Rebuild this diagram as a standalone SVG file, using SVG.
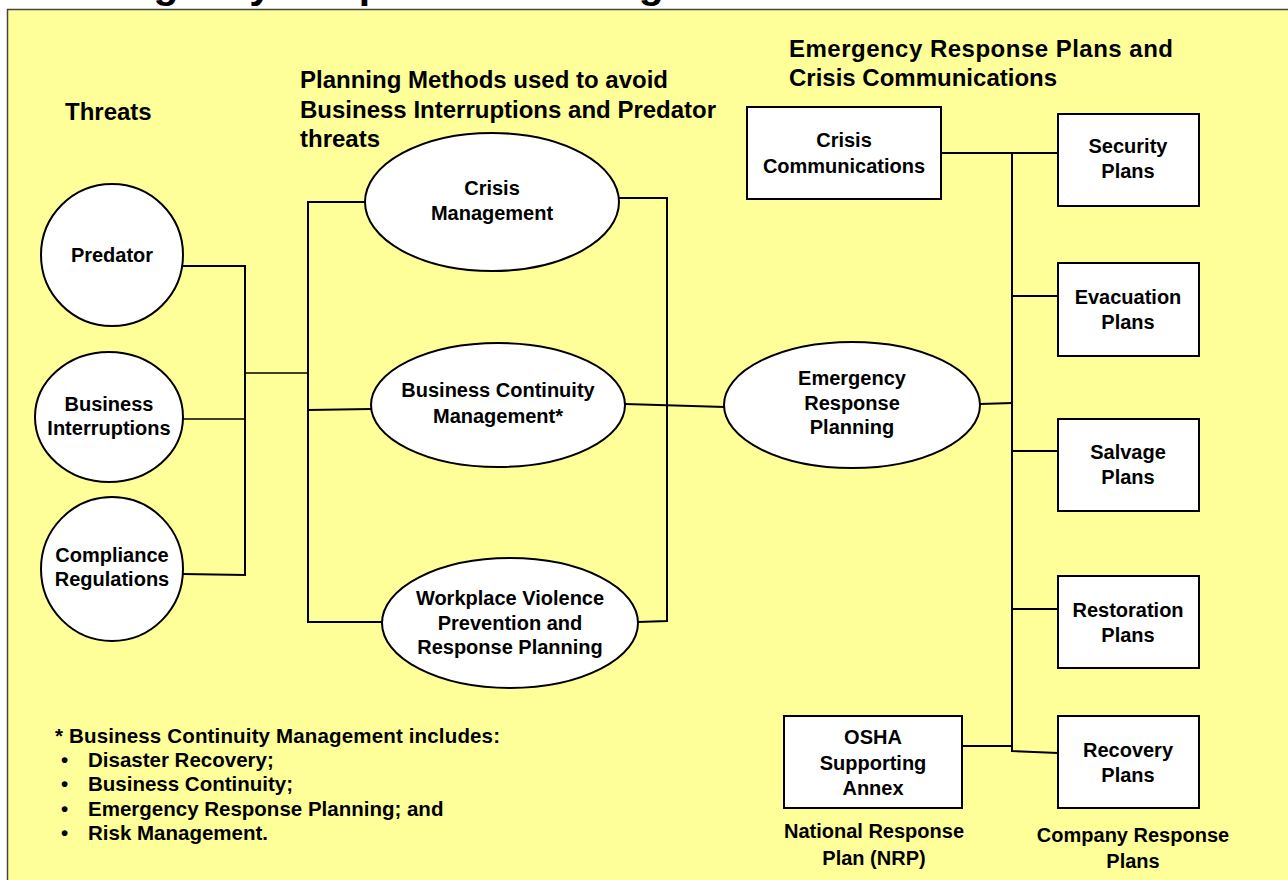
<svg xmlns="http://www.w3.org/2000/svg" width="1288" height="880" viewBox="0 0 1288 880">
<style>
text{font-family:"Liberation Sans",Arial,sans-serif;font-weight:bold;fill:#000}
.h{font-size:24px}
.n{font-size:20px;text-anchor:middle}
.f{font-size:20.5px}
.t{font-size:41px}
.shape{fill:#fff;stroke:#000;stroke-width:2}
.c{fill:none;stroke:#000;stroke-width:2}
.thin{stroke-width:1.3}
</style>
<rect x="0" y="0" width="1288" height="880" fill="#fff"/>
<text class="t" x="51" y="-2">Emergency Response Planning</text>
<rect x="7.5" y="9.5" width="1290" height="880" fill="#ffff99" stroke="#444" stroke-width="1.5"/>

<g id="labels">
<text class="h" x="65" y="120">Threats</text>
<text class="h" x="300" y="88">Planning Methods used to avoid</text>
<text class="h" x="300" y="118">Business Interruptions and Predator</text>
<text class="h" x="300" y="147">threats</text>
<text class="h" x="789" y="57" textLength="384" lengthAdjust="spacing">Emergency Response Plans and</text>
<text class="h" x="789" y="86">Crisis Communications</text>
<text class="n" x="874" y="838">National Response</text>
<text class="n" x="874" y="865">Plan (NRP)</text>
<text class="n" x="1133" y="842">Company Response</text>
<text class="n" x="1133" y="868">Plans</text>
</g>

<g id="footnote">
<text class="f" x="55" y="743" textLength="445" lengthAdjust="spacing">* Business Continuity Management includes:</text>
<text class="f" x="61" y="767">•</text><text class="f" x="88" y="767">Disaster Recovery;</text>
<text class="f" x="61" y="791">•</text><text class="f" x="88" y="791">Business Continuity;</text>
<text class="f" x="61" y="816">•</text><text class="f" x="88" y="816">Emergency Response Planning; and</text>
<text class="f" x="61" y="840">•</text><text class="f" x="88" y="840">Risk Management.</text>
</g>

<g id="connectors">
<polyline class="c" points="183,266 245,266 245,575 183,574"/>
<line class="c thin" x1="183" y1="419" x2="245" y2="419"/>
<line class="c thin" x1="245" y1="373" x2="308" y2="373"/>
<polyline class="c" points="365,202 308,202 308,622 382,622"/>
<line class="c" x1="308" y1="410" x2="371" y2="409"/>
<polyline class="c" points="619,198 667,198 667,621 638,622"/>
<line class="c" x1="625" y1="404" x2="725" y2="407"/>
<line class="c" x1="980" y1="404" x2="1012" y2="403"/>
<polyline class="c" points="941,153 1058,153"/>
<line class="c" x1="1012" y1="153" x2="1012" y2="751"/>
<line class="c" x1="1012" y1="296" x2="1058" y2="296"/>
<line class="c" x1="1012" y1="451" x2="1058" y2="451"/>
<line class="c" x1="1012" y1="609" x2="1058" y2="609"/>
<polyline class="c" points="962,746 1012,746 1012,751 1058,753"/>
</g>

<g id="predator">
<circle class="shape" cx="112" cy="255" r="71"/>
<text class="n" x="112" y="262">Predator</text>
</g>
<g id="business-interruptions">
<ellipse class="shape" cx="109" cy="417" rx="74" ry="65"/>
<text class="n" x="109" y="411">Business</text>
<text class="n" x="109" y="435">Interruptions</text>
</g>
<g id="compliance-regulations">
<ellipse class="shape" cx="112" cy="569" rx="71" ry="72"/>
<text class="n" x="112" y="562">Compliance</text>
<text class="n" x="112" y="586">Regulations</text>
</g>

<g id="crisis-management">
<ellipse class="shape" cx="492" cy="202" rx="127" ry="69"/>
<text class="n" x="492" y="195">Crisis</text>
<text class="n" x="492" y="220">Management</text>
</g>
<g id="business-continuity-management">
<ellipse class="shape" cx="498" cy="405" rx="127" ry="62"/>
<text class="n" x="498" y="397">Business Continuity</text>
<text class="n" x="498" y="423">Management*</text>
</g>
<g id="workplace-violence">
<ellipse class="shape" cx="510" cy="623" rx="128" ry="65"/>
<text class="n" x="510" y="605">Workplace Violence</text>
<text class="n" x="510" y="630">Prevention and</text>
<text class="n" x="510" y="654">Response Planning</text>
</g>
<g id="emergency-response-planning">
<ellipse class="shape" cx="852" cy="405" rx="128" ry="63"/>
<text class="n" x="852" y="385">Emergency</text>
<text class="n" x="852" y="410">Response</text>
<text class="n" x="852" y="434">Planning</text>
</g>

<g id="crisis-communications">
<rect class="shape" x="747" y="107" width="194" height="92"/>
<text class="n" x="844" y="147">Crisis</text>
<text class="n" x="844" y="173">Communications</text>
</g>
<g id="security-plans">
<rect class="shape" x="1058" y="114" width="141" height="92"/>
<text class="n" x="1128" y="153">Security</text>
<text class="n" x="1128" y="178">Plans</text>
</g>
<g id="evacuation-plans">
<rect class="shape" x="1058" y="263" width="141" height="93"/>
<text class="n" x="1128" y="304">Evacuation</text>
<text class="n" x="1128" y="329">Plans</text>
</g>
<g id="salvage-plans">
<rect class="shape" x="1058" y="419" width="141" height="92"/>
<text class="n" x="1128" y="459">Salvage</text>
<text class="n" x="1128" y="484">Plans</text>
</g>
<g id="restoration-plans">
<rect class="shape" x="1058" y="576" width="141" height="92"/>
<text class="n" x="1128" y="617">Restoration</text>
<text class="n" x="1128" y="642">Plans</text>
</g>
<g id="recovery-plans">
<rect class="shape" x="1058" y="716" width="141" height="92"/>
<text class="n" x="1128" y="757">Recovery</text>
<text class="n" x="1128" y="782">Plans</text>
</g>
<g id="osha-supporting-annex">
<rect class="shape" x="784" y="716" width="178" height="92"/>
<text class="n" x="873" y="744">OSHA</text>
<text class="n" x="873" y="770">Supporting</text>
<text class="n" x="873" y="795">Annex</text>
</g>
</svg>
